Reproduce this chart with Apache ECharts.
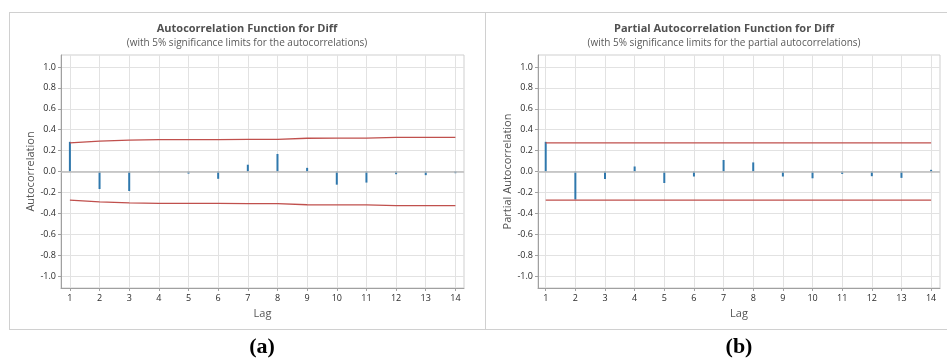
<!DOCTYPE html>
<html>
<head>
<meta charset="utf-8">
<script src="https://cdn.jsdelivr.net/npm/echarts@6/dist/echarts.min.js"></script>
<style>
  html, body { margin: 0; padding: 0; background: #fff; }
  #chart { width: 947px; height: 358px; }
</style>
</head>
<body>
<div id="chart"></div>
<script>
// lags and values
const lags = [1, 2, 3, 4, 5, 6, 7, 8, 9, 10, 11, 12, 13, 14];
const yTicks = [-1.0, -0.8, -0.6, -0.4, -0.2, 0.0, 0.2, 0.4, 0.6, 0.8, 1.0];
const acf = [0.284, -0.168, -0.187, 0.003, -0.02, -0.07, 0.065, 0.168, 0.035, -0.126, -0.106, -0.026, -0.035, -0.016];
const acfLimit = [0.274, 0.290, 0.300, 0.306, 0.306, 0.306, 0.307, 0.307, 0.318, 0.319, 0.319, 0.326, 0.326, 0.326];
const pacf = [0.284, -0.268, -0.071, 0.048, -0.11, -0.048, 0.11, 0.087, -0.048, -0.065, -0.023, -0.045, -0.061, 0.016];
const pacfLimit = [0.274, 0.274, 0.274, 0.274, 0.274, 0.274, 0.274, 0.274, 0.274, 0.274, 0.274, 0.274, 0.274, 0.274];

const FONT = '"Open Sans", "Noto Sans", sans-serif';
const barColor = '#2f78ad';
const limitColor = '#c0504d';

function pairs(vals, sign) {
    return lags.map((l, i) => [l, (sign || 1) * vals[i]]);
}

function xAxisOf(idx, min, max) {
    return {
        type: 'value', gridIndex: idx, min: min, max: max,
        name: 'Lag', nameLocation: 'middle', nameGap: 20,
        nameTextStyle: { fontFamily: FONT, fontSize: 11, color: '#555' },
        axisLine: { onZero: false, lineStyle: { color: '#a0a0a0' } },
        axisTick: { customValues: lags, length: 3, lineStyle: { color: '#a0a0a0' } },
        axisLabel: { customValues: lags, fontFamily: FONT, fontSize: 9, color: '#2a2a2a', margin: 6 },
        splitLine: { show: true, lineStyle: { color: '#e2e2e2' } }
    };
}

function yAxisOf(idx, name) {
    return {
        type: 'value', gridIndex: idx, min: -1.115, max: 1.115,
        name: name, nameLocation: 'middle', nameGap: 24,
        nameTextStyle: { fontFamily: FONT, fontSize: 11, color: '#555' },
        axisLine: { show: true, lineStyle: { color: '#a0a0a0' } },
        axisTick: { show: true, customValues: yTicks, length: 3, lineStyle: { color: '#a0a0a0' } },
        axisLabel: {
            customValues: yTicks, fontFamily: FONT, fontSize: 9, color: '#2a2a2a', margin: 5,
            formatter: v => v.toFixed(1)
        },
        splitLine: { show: true, lineStyle: { color: '#e2e2e2' } }
    };
}

function stems(idx, vals) {
    return {
        type: 'bar', xAxisIndex: idx, yAxisIndex: idx, barWidth: 2,
        itemStyle: { color: barColor }, data: pairs(vals),
        markLine: {
            silent: true, symbol: 'none', label: { show: false },
            lineStyle: { color: '#bdbdbd', width: 1.5, type: 'solid' },
            data: [{ yAxis: 0 }]
        },
        z: 3
    };
}

function limit(idx, vals, sign) {
    return {
        type: 'line', xAxisIndex: idx, yAxisIndex: idx, symbol: 'none',
        lineStyle: { color: limitColor, width: 1.3 }, data: pairs(vals, sign), z: 4
    };
}

function label(x, y, text, font, color) {
    return { type: 'text', x: x, y: y, style: { text: text, font: font, fill: color, align: 'center', verticalAlign: 'middle' } };
}

function hline(x1, x2, y) {
    return { type: 'line', shape: { x1: x1, y1: y, x2: x2, y2: y }, style: { stroke: '#d0d0d0', lineWidth: 1 } };
}
function vline(x, y1, y2) {
    return { type: 'line', shape: { x1: x, y1: y1, x2: x, y2: y2 }, style: { stroke: '#d0d0d0', lineWidth: 1 } };
}

const option = {
    animation: false,
    grid: [
        { left: 61, right: 483, top: 55, bottom: 70, show: true, borderColor: '#cfcfcf', containLabel: false },
        { left: 538, right: 7, top: 55, bottom: 70, show: true, borderColor: '#cfcfcf', containLabel: false }
    ],
    xAxis: [xAxisOf(0, 0.7, 14.29), xAxisOf(1, 0.74, 14.3)],
    yAxis: [yAxisOf(0, 'Autocorrelation'), yAxisOf(1, 'Partial Autocorrelation')],
    series: [
        stems(0, acf), limit(0, acfLimit, 1), limit(0, acfLimit, -1),
        stems(1, pacf), limit(1, pacfLimit, 1), limit(1, pacfLimit, -1)
    ],
    graphic: [
        hline(9, 947, 12.5), hline(9, 947, 329.5), vline(9.5, 12, 330), vline(485.5, 12, 330),
        label(247, 29, 'Autocorrelation Function for Diff', 'bold 11px ' + FONT, '#505050'),
        label(247, 43, '(with 5% significance limits for the autocorrelations)', '10px ' + FONT, '#5a5a5a'),
        label(724, 29, 'Partial Autocorrelation Function for Diff', 'bold 11px ' + FONT, '#505050'),
        label(724, 43, '(with 5% significance limits for the partial autocorrelations)', '10px ' + FONT, '#5a5a5a'),
        label(262, 347, '(a)', 'bold 22px "Liberation Serif", serif', '#000'),
        label(739, 347, '(b)', 'bold 22px "Liberation Serif", serif', '#000')
    ]
};

const myChart = echarts.init(document.getElementById('chart'));
myChart.setOption(option);
</script>
</body>
</html>
